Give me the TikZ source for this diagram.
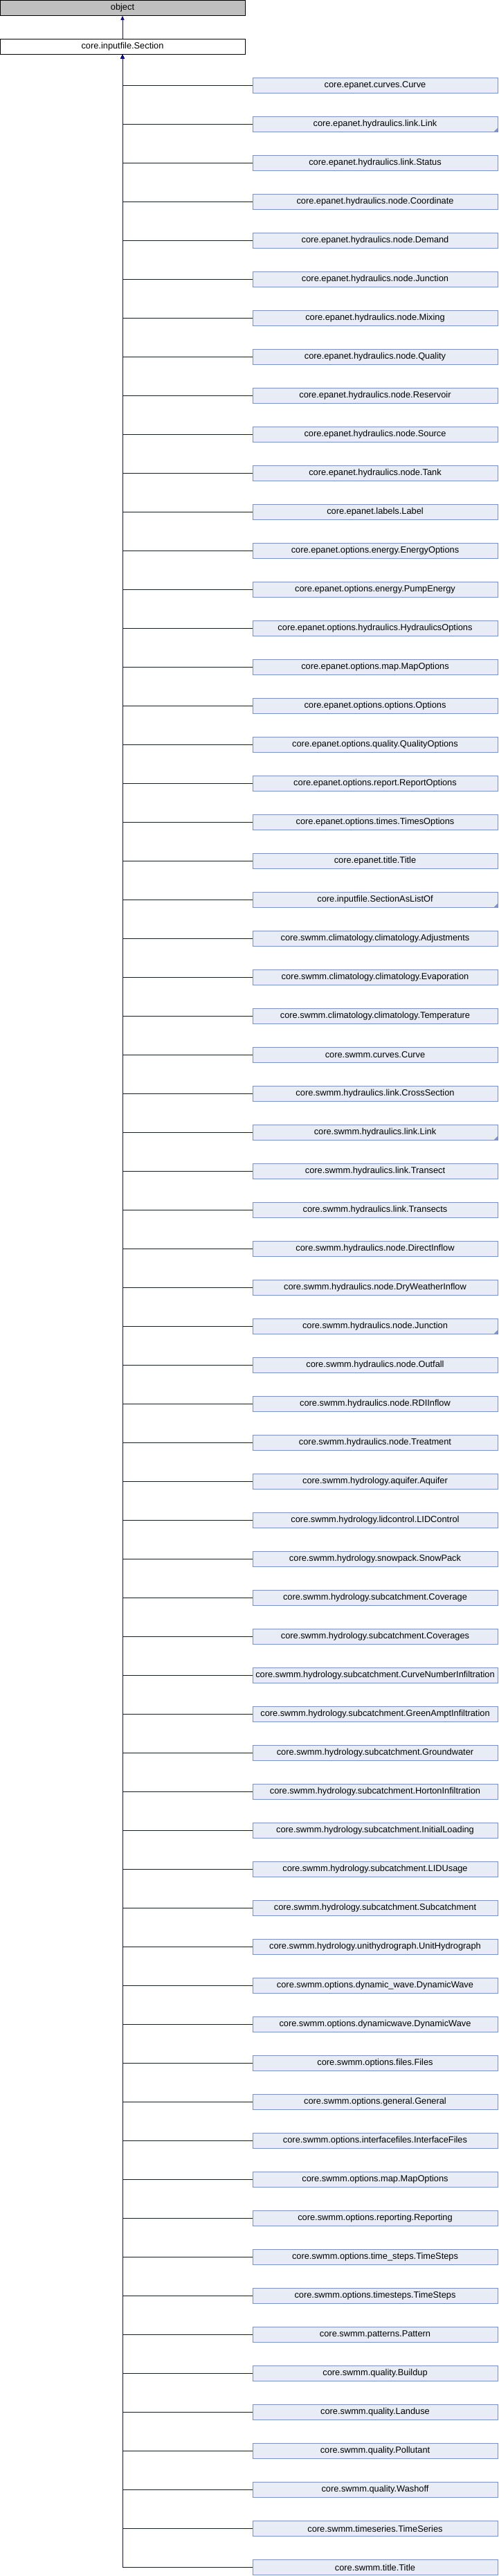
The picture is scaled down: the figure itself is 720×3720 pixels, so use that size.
\documentclass[tikz,border=0pt]{standalone}
\usepackage{fontspec}
\setmainfont{Liberation Sans}
\usetikzlibrary{positioning, arrows.meta}
\definecolor{edgeblue}{RGB}{12,12,140}
\definecolor{subfill}{RGB}{232,236,245}
\definecolor{subline}{RGB}{122,145,204}
\tikzset{>={Triangle[width=5pt,length=6pt]}, node distance=33.4pt,
  box/.style={rectangle, draw, line width=1pt, inner sep=0pt, outer sep=0pt,
    minimum width=354pt, minimum height=22.6pt, font=\fontsize{12.8}{14}\selectfont},
  top/.style={box, fill=black!25},
  sec/.style={box, fill=white},
  sub/.style={box, draw=subline, fill=subfill},
  more/.style={path picture={\fill[subline] (path picture bounding box.south east)
    -- ++(-6pt,0) -- ++(6pt,6pt) -- cycle;}},
  inherit/.style={->, draw=edgeblue, line width=1pt,
    to path={(\tikztostart.west) -| (\tikztotarget.south)}}}

\begin{document}
\begin{tikzpicture}
\useasboundingbox (0,0) rectangle (720pt,-3720pt);
\node[top] (object) at (177pt,-11.5pt) {object};
\node[sec, below=of object] (section) {core.inputfile.Section};
\node[sub, below right=33.4pt and 11pt of section] (sub1) {core.epanet.curves.Curve};
\node[sub, more, below=of sub1] (sub2) {core.epanet.hydraulics.link.Link};
\node[sub, below=of sub2] (sub3) {core.epanet.hydraulics.link.Status};
\node[sub, below=of sub3] (sub4) {core.epanet.hydraulics.node.Coordinate};
\node[sub, below=of sub4] (sub5) {core.epanet.hydraulics.node.Demand};
\node[sub, below=of sub5] (sub6) {core.epanet.hydraulics.node.Junction};
\node[sub, below=of sub6] (sub7) {core.epanet.hydraulics.node.Mixing};
\node[sub, below=of sub7] (sub8) {core.epanet.hydraulics.node.Quality};
\node[sub, below=of sub8] (sub9) {core.epanet.hydraulics.node.Reservoir};
\node[sub, below=of sub9] (sub10) {core.epanet.hydraulics.node.Source};
\node[sub, below=of sub10] (sub11) {core.epanet.hydraulics.node.Tank};
\node[sub, below=of sub11] (sub12) {core.epanet.labels.Label};
\node[sub, below=of sub12] (sub13) {core.epanet.options.energy.EnergyOptions};
\node[sub, below=of sub13] (sub14) {core.epanet.options.energy.PumpEnergy};
\node[sub, below=of sub14] (sub15) {core.epanet.options.hydraulics.HydraulicsOptions};
\node[sub, below=of sub15] (sub16) {core.epanet.options.map.MapOptions};
\node[sub, below=of sub16] (sub17) {core.epanet.options.options.Options};
\node[sub, below=of sub17] (sub18) {core.epanet.options.quality.QualityOptions};
\node[sub, below=of sub18] (sub19) {core.epanet.options.report.ReportOptions};
\node[sub, below=of sub19] (sub20) {core.epanet.options.times.TimesOptions};
\node[sub, below=of sub20] (sub21) {core.epanet.title.Title};
\node[sub, more, below=of sub21] (sub22) {core.inputfile.SectionAsListOf};
\node[sub, below=of sub22] (sub23) {core.swmm.climatology.climatology.Adjustments};
\node[sub, below=of sub23] (sub24) {core.swmm.climatology.climatology.Evaporation};
\node[sub, below=of sub24] (sub25) {core.swmm.climatology.climatology.Temperature};
\node[sub, below=of sub25] (sub26) {core.swmm.curves.Curve};
\node[sub, below=of sub26] (sub27) {core.swmm.hydraulics.link.CrossSection};
\node[sub, more, below=of sub27] (sub28) {core.swmm.hydraulics.link.Link};
\node[sub, below=of sub28] (sub29) {core.swmm.hydraulics.link.Transect};
\node[sub, below=of sub29] (sub30) {core.swmm.hydraulics.link.Transects};
\node[sub, below=of sub30] (sub31) {core.swmm.hydraulics.node.DirectInflow};
\node[sub, below=of sub31] (sub32) {core.swmm.hydraulics.node.DryWeatherInflow};
\node[sub, more, below=of sub32] (sub33) {core.swmm.hydraulics.node.Junction};
\node[sub, below=of sub33] (sub34) {core.swmm.hydraulics.node.Outfall};
\node[sub, below=of sub34] (sub35) {core.swmm.hydraulics.node.RDIInflow};
\node[sub, below=of sub35] (sub36) {core.swmm.hydraulics.node.Treatment};
\node[sub, below=of sub36] (sub37) {core.swmm.hydrology.aquifer.Aquifer};
\node[sub, below=of sub37] (sub38) {core.swmm.hydrology.lidcontrol.LIDControl};
\node[sub, below=of sub38] (sub39) {core.swmm.hydrology.snowpack.SnowPack};
\node[sub, below=of sub39] (sub40) {core.swmm.hydrology.subcatchment.Coverage};
\node[sub, below=of sub40] (sub41) {core.swmm.hydrology.subcatchment.Coverages};
\node[sub, below=of sub41] (sub42) {core.swmm.hydrology.subcatchment.CurveNumberInfiltration};
\node[sub, below=of sub42] (sub43) {core.swmm.hydrology.subcatchment.GreenAmptInfiltration};
\node[sub, below=of sub43] (sub44) {core.swmm.hydrology.subcatchment.Groundwater};
\node[sub, below=of sub44] (sub45) {core.swmm.hydrology.subcatchment.HortonInfiltration};
\node[sub, below=of sub45] (sub46) {core.swmm.hydrology.subcatchment.InitialLoading};
\node[sub, below=of sub46] (sub47) {core.swmm.hydrology.subcatchment.LIDUsage};
\node[sub, below=of sub47] (sub48) {core.swmm.hydrology.subcatchment.Subcatchment};
\node[sub, below=of sub48] (sub49) {core.swmm.hydrology.unithydrograph.UnitHydrograph};
\node[sub, below=of sub49] (sub50) {core.swmm.options.dynamic\_wave.DynamicWave};
\node[sub, below=of sub50] (sub51) {core.swmm.options.dynamicwave.DynamicWave};
\node[sub, below=of sub51] (sub52) {core.swmm.options.files.Files};
\node[sub, below=of sub52] (sub53) {core.swmm.options.general.General};
\node[sub, below=of sub53] (sub54) {core.swmm.options.interfacefiles.InterfaceFiles};
\node[sub, below=of sub54] (sub55) {core.swmm.options.map.MapOptions};
\node[sub, below=of sub55] (sub56) {core.swmm.options.reporting.Reporting};
\node[sub, below=of sub56] (sub57) {core.swmm.options.time\_steps.TimeSteps};
\node[sub, below=of sub57] (sub58) {core.swmm.options.timesteps.TimeSteps};
\node[sub, below=of sub58] (sub59) {core.swmm.patterns.Pattern};
\node[sub, below=of sub59] (sub60) {core.swmm.quality.Buildup};
\node[sub, below=of sub60] (sub61) {core.swmm.quality.Landuse};
\node[sub, below=of sub61] (sub62) {core.swmm.quality.Pollutant};
\node[sub, below=of sub62] (sub63) {core.swmm.quality.Washoff};
\node[sub, below=of sub63] (sub64) {core.swmm.timeseries.TimeSeries};
\node[sub, below=of sub64] (sub65) {core.swmm.title.Title};
\draw[->, edgeblue, line width=1pt] (section) edge (object);
\draw
(sub1) edge[inherit] (section)
(sub2) edge[inherit] (section)
(sub3) edge[inherit] (section)
(sub4) edge[inherit] (section)
(sub5) edge[inherit] (section)
(sub6) edge[inherit] (section)
(sub7) edge[inherit] (section)
(sub8) edge[inherit] (section)
(sub9) edge[inherit] (section)
(sub10) edge[inherit] (section)
(sub11) edge[inherit] (section)
(sub12) edge[inherit] (section)
(sub13) edge[inherit] (section)
(sub14) edge[inherit] (section)
(sub15) edge[inherit] (section)
(sub16) edge[inherit] (section)
(sub17) edge[inherit] (section)
(sub18) edge[inherit] (section)
(sub19) edge[inherit] (section)
(sub20) edge[inherit] (section)
(sub21) edge[inherit] (section)
(sub22) edge[inherit] (section)
(sub23) edge[inherit] (section)
(sub24) edge[inherit] (section)
(sub25) edge[inherit] (section)
(sub26) edge[inherit] (section)
(sub27) edge[inherit] (section)
(sub28) edge[inherit] (section)
(sub29) edge[inherit] (section)
(sub30) edge[inherit] (section)
(sub31) edge[inherit] (section)
(sub32) edge[inherit] (section)
(sub33) edge[inherit] (section)
(sub34) edge[inherit] (section)
(sub35) edge[inherit] (section)
(sub36) edge[inherit] (section)
(sub37) edge[inherit] (section)
(sub38) edge[inherit] (section)
(sub39) edge[inherit] (section)
(sub40) edge[inherit] (section)
(sub41) edge[inherit] (section)
(sub42) edge[inherit] (section)
(sub43) edge[inherit] (section)
(sub44) edge[inherit] (section)
(sub45) edge[inherit] (section)
(sub46) edge[inherit] (section)
(sub47) edge[inherit] (section)
(sub48) edge[inherit] (section)
(sub49) edge[inherit] (section)
(sub50) edge[inherit] (section)
(sub51) edge[inherit] (section)
(sub52) edge[inherit] (section)
(sub53) edge[inherit] (section)
(sub54) edge[inherit] (section)
(sub55) edge[inherit] (section)
(sub56) edge[inherit] (section)
(sub57) edge[inherit] (section)
(sub58) edge[inherit] (section)
(sub59) edge[inherit] (section)
(sub60) edge[inherit] (section)
(sub61) edge[inherit] (section)
(sub62) edge[inherit] (section)
(sub63) edge[inherit] (section)
(sub64) edge[inherit] (section)
(sub65) edge[inherit] (section);

\end{tikzpicture}
\end{document}
